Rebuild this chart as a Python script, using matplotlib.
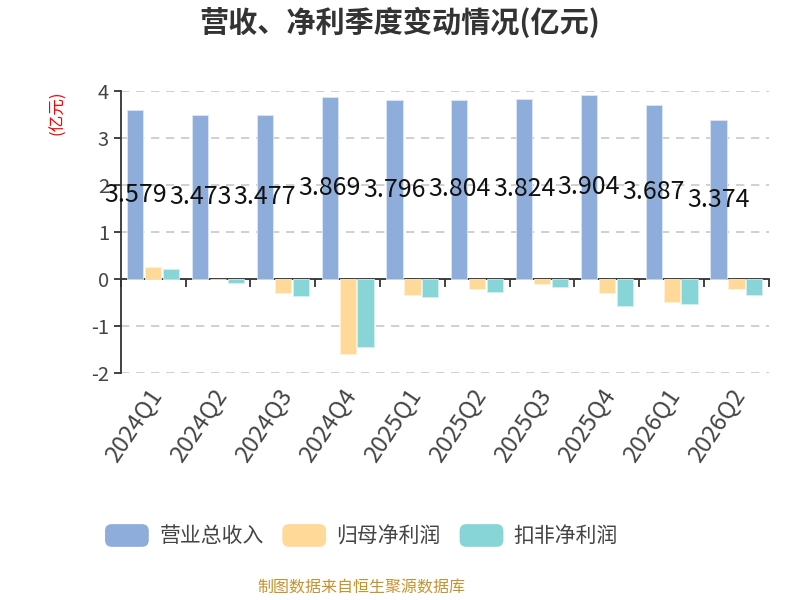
import numpy as np
import matplotlib
matplotlib.use('Agg')
import matplotlib.pyplot as plt
from matplotlib.patches import FancyBboxPatch, Rectangle
from matplotlib.legend_handler import HandlerPatch

plt.rcParams['font.family'] = ['Noto Sans CJK SC', 'DejaVu Sans']
plt.rcParams['axes.unicode_minus'] = False

quarters = ['2024Q1', '2024Q2', '2024Q3', '2024Q4', '2025Q1',
            '2025Q2', '2025Q3', '2025Q4', '2026Q1', '2026Q2']
revenue = [3.579, 3.473, 3.477, 3.869, 3.796, 3.804, 3.824, 3.904, 3.687, 3.374]
net_profit = [0.25, -0.01, -0.30, -1.59, -0.34, -0.21, -0.10, -0.30, -0.49, -0.22]
net_profit_ded = [0.22, -0.08, -0.36, -1.44, -0.39, -0.28, -0.18, -0.57, -0.53, -0.33]

series_names = ['营业总收入', '归母净利润', '扣非净利润']
colors = ['#8EADDA', '#FFD997', '#88D5D8']


class RoundBox(HandlerPatch):
    def create_artists(self, legend, orig_handle, xdescent, ydescent, width, height, fontsize, trans):
        r = height * 0.3
        p = FancyBboxPatch((-xdescent + r, -ydescent + r), width - 2 * r, height - 2 * r,
                           boxstyle=f'round,pad={r}', facecolor=orig_handle.get_facecolor(),
                           edgecolor='none', transform=trans)
        return [p]


fig = plt.figure(figsize=(8, 6), dpi=100)
ax = fig.add_axes([0.151, 0.378, 0.81, 0.471])

x = np.arange(len(quarters))
w = 0.25
off = 0.275
b1 = ax.bar(x - off, revenue, w, color=colors[0], edgecolor='#DCE6F5', linewidth=0.6, zorder=3)
b2 = ax.bar(x, net_profit, w, color=colors[1], edgecolor='#FFF0D6', linewidth=0.6, zorder=3)
b3 = ax.bar(x + off, net_profit_ded, w, color=colors[2], edgecolor='#D5F0F1', linewidth=0.6, zorder=3)

for xi, v in zip(x - off, revenue):
    ax.text(xi, v / 2, f'{v:.3f}', ha='center', va='center', fontsize=18, color='#111111', zorder=5)

ax.set_xlim(-0.5, len(quarters) - 0.5)
ax.set_ylim(-2, 4)
ax.set_yticks([-2, -1, 0, 1, 2, 3, 4])
ax.yaxis.grid(True, linestyle=(0, (5, 4)), color='#C8C8C8', linewidth=1.2, zorder=0)
ax.set_axisbelow(True)

for s in ['top', 'right']:
    ax.spines[s].set_visible(False)
ax.spines['left'].set_color('#333333')
ax.spines['left'].set_linewidth(1.3)
ax.spines['bottom'].set_position(('data', 0))
ax.spines['bottom'].set_color('#333333')
ax.spines['bottom'].set_linewidth(1.3)

ax.tick_params(axis='y', labelsize=14.5, colors='#333333', length=5, width=1.3, labelcolor='#444444')
ax.set_xticks(np.arange(len(quarters) + 1) - 0.5)
ax.set_xticklabels([])
ax.tick_params(axis='x', length=6, width=1.3, color='#333333', direction='out')
for xi, q in zip(x, quarters):
    ax.text(xi - 0.09, -2.25, q, rotation=56, ha='right', va='top', rotation_mode='anchor',
            fontsize=17, color='#444444')

ax.text(-0.097, 0.92, '(亿元)', transform=ax.transAxes, rotation=90, color='red',
        fontsize=12, ha='center', va='center')

fig.text(0.5, 0.962, '营收、净利季度变动情况(亿元)', ha='center', va='center',
         fontsize=21, fontweight='bold', color='#333333')

handles = [b1.patches[0], b2.patches[0], b3.patches[0]]
leg = fig.legend(handles=handles, labels=series_names, loc='center',
                 bbox_to_anchor=(0.452, 0.107), ncol=3, frameon=False, fontsize=15,
                 handlelength=2.1, handleheight=1.3, handletextpad=0.5, columnspacing=0.9,
                 labelcolor='#444444', handler_map={Rectangle: RoundBox()})

fig.text(0.452, 0.02, '制图数据来自恒生聚源数据库', ha='center', va='center',
         fontsize=11.5, color='#C8922A')

fig.savefig('out.png', dpi=100)
